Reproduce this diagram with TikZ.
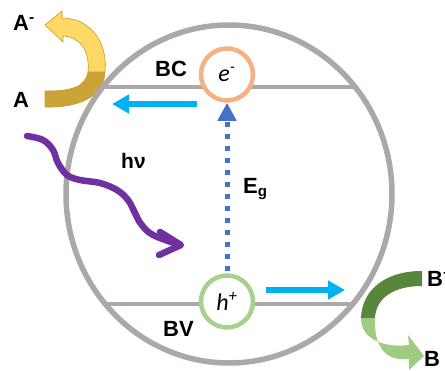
\documentclass[tikz,border=0pt]{standalone}
\usepackage{fontspec}
\setmainfont{Liberation Sans}
\newfontfamily\carlito{Carlito}
\usetikzlibrary{arrows.meta}
\definecolor{grayline}{RGB}{172,168,168}
\definecolor{cyanarrow}{RGB}{0,176,240}
\definecolor{bluedash}{RGB}{68,114,196}
\definecolor{purplewave}{RGB}{112,48,160}
\definecolor{orangering}{RGB}{244,177,131}
\definecolor{greenring}{RGB}{169,209,142}
\definecolor{yellowlight}{RGB}{255,217,102}
\definecolor{yellowdark}{RGB}{203,163,55}
\definecolor{yellowedge}{RGB}{196,156,40}
\definecolor{greendark}{RGB}{88,134,58}
\definecolor{greenlight}{RGB}{160,204,130}
\begin{document}
\begin{tikzpicture}[x=1pt,y=-1pt,
  lbl/.style={font=\fontsize{22}{24}\selectfont\bfseries, inner sep=0pt, anchor=base west},
  carrier/.style={circle, fill=white, line width=4.5pt, minimum size=52pt, inner sep=0pt,
     font=\fontsize{24}{26}\selectfont\carlito\itshape},
  band/.style={draw=grayline, line width=4.5pt},
  flow/.style={draw=cyanarrow, line width=6pt, -{Triangle[length=17pt,width=18pt]}},
]
\useasboundingbox (0,0) rectangle (445,370);

% yellow ribbon arrow A -> A^-
\fill[yellowdark, draw=yellowedge, line width=0.6pt]
  (88,72) .. controls (85,88) and (70,91) .. (45,91) -- (45,107)
  .. controls (82,108) and (104,95) .. (105,72) -- cycle;
\fill[yellowlight, draw=yellowedge, line width=0.6pt]
  (105,72) .. controls (108,42) and (90,18) .. (62,18) -- (62,11) -- (45,25)
  -- (63,42) -- (63,36) .. controls (80,37) and (90,50) .. (88,72) -- cycle;

% green ribbon arrow B^+ -> B
\fill[greendark]
  (422,271) .. controls (385,271) and (362,290) .. (361,318) -- (375,318)
  .. controls (376,297) and (395,286) .. (422,286) -- cycle;
\fill[greenlight]
  (361,318) .. controls (361,340) and (385,348) .. (409,345) -- (408,335) -- (424,356)
  -- (409,370) -- (409,359) .. controls (382,362) and (374,342) .. (375,318) -- cycle;

% particle and bands
\draw[grayline, line width=5.5pt] (229,194) ellipse [x radius=163, y radius=169];
\coordinate (bcL) at (103,87);
\coordinate (bcR) at (355,87);
\coordinate (bvL) at (105,304);
\coordinate (bvR) at (353,304);
\draw[band] (bcL) -- (bcR);
\draw[band] (bvL) -- (bvR);

\node[carrier, draw=orangering] (ecirc) at (227,74.5) {e\textsuperscript{-}};
\node[carrier, draw=greenring] (hcirc) at (227,301.5) {h\textsuperscript{+}};

% excitation arrow
\draw[bluedash, line width=5pt, dash pattern=on 5pt off 7pt, shorten <=2pt,
      -{Triangle[length=18pt,width=18pt]}] (hcirc.north) -- (ecirc.south);

% charge transfer arrows
\coordinate (eS) at (197,104);
\coordinate (eE) at (112,104);
\coordinate (hS) at (266,290);
\coordinate (hE) at (345,290);
\draw[flow] (eS) -- (eE);
\draw[flow] (hS) -- (hE);

% photon
\draw[purplewave, line width=6.5pt, line cap=round, line join=round]
  plot[smooth, tension=0.6] coordinates {(27,136) (43,140) (53,150) (58,163) (67,175) (80,180)
   (100,183) (117,190) (128,200) (135,213) (141,224) (153,235) (180,245)};
\coordinate (pU) at (160,232);
\coordinate (pT) at (181,245);
\coordinate (pD) at (159,255);
\draw[purplewave, line width=6.5pt, line cap=round, line join=round] (pU) -- (pT) -- (pD);

% labels
\node[lbl] (lAm) at (13,30) {A\textsuperscript{-}};
\node[lbl] (lA) at (13,107) {A};
\node[lbl] (lBC) at (155,76) {BC};
\node[lbl] (lBV) at (163,336) {BV};
\node[lbl] (lEg) at (243,193) {E\raisebox{-0.3ex}{\fontsize{15}{15}\selectfont g}};
\node[lbl, font=\fontsize{21}{23}\selectfont\bfseries] (lhv) at (121,168) {hν};
\node[lbl] (lBp) at (427,286) {B\textsuperscript{+}};
\node[lbl] (lB) at (424,366) {B};
\end{tikzpicture}
\end{document}
